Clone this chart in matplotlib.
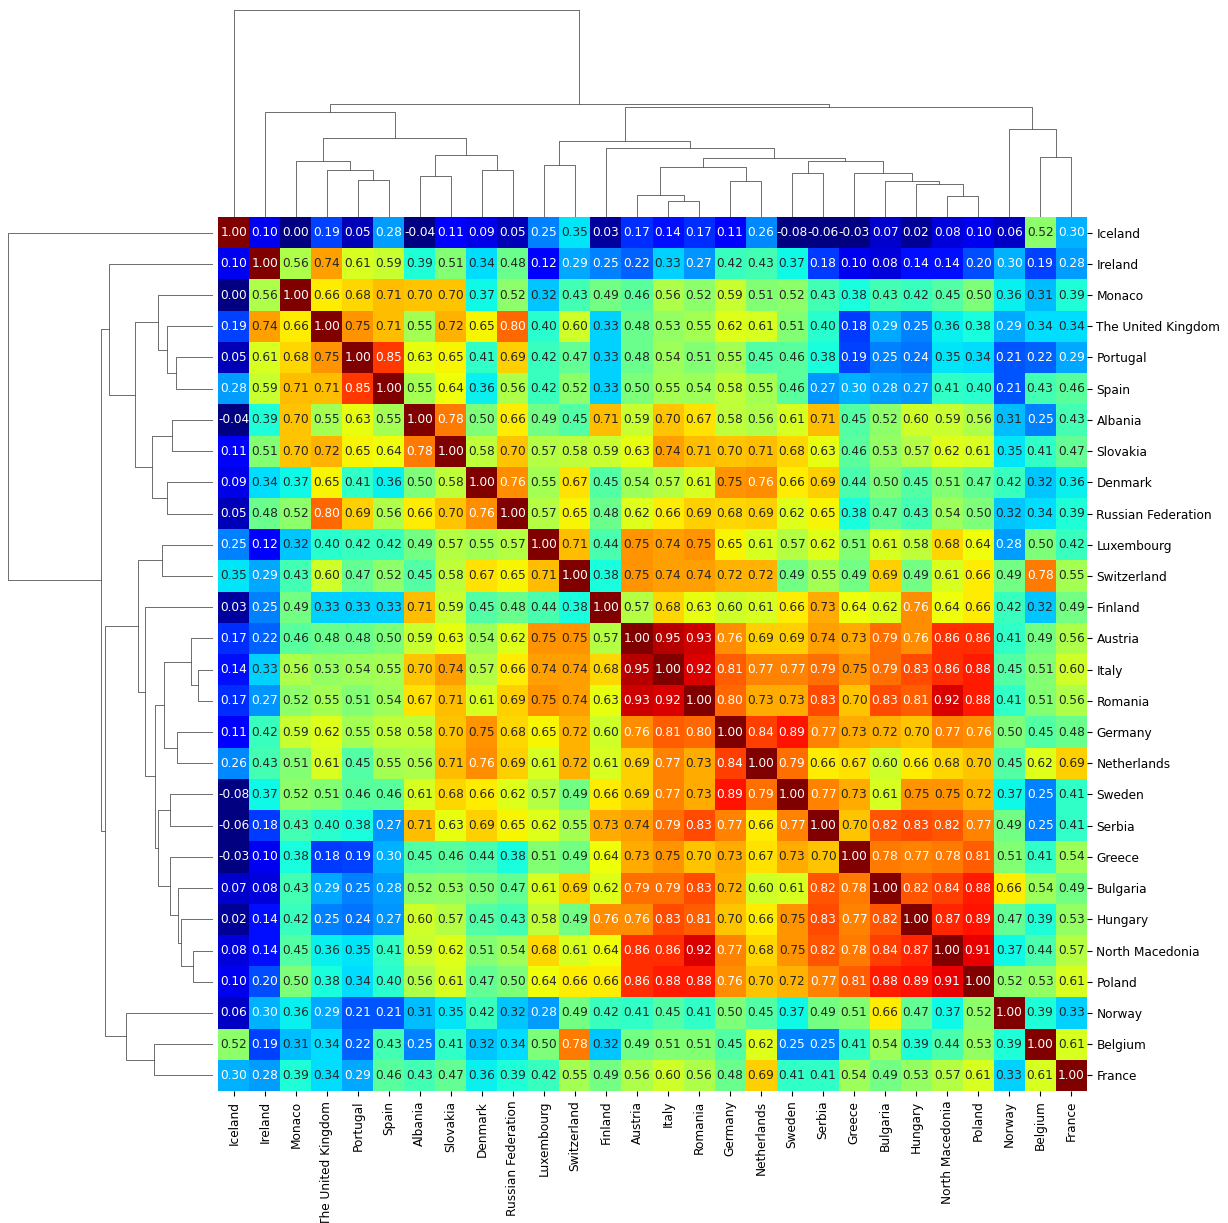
import numpy as np
import pandas as pd
import matplotlib
matplotlib.use("Agg")
import matplotlib.pyplot as plt
import seaborn as sns
from scipy.cluster.hierarchy import linkage

countries = ["Iceland", "Ireland", "Monaco", "The United Kingdom", "Portugal", "Spain",
             "Albania", "Slovakia", "Denmark", "Russian Federation", "Luxembourg",
             "Switzerland", "Finland", "Austria", "Italy", "Romania", "Germany",
             "Netherlands", "Sweden", "Serbia", "Greece", "Bulgaria", "Hungary",
             "North Macedonia", "Poland", "Norway", "Belgium", "France"]

corr_rows = [
    [1.00, 0.10, 0.00, 0.19, 0.05, 0.28, -0.04, 0.11, 0.09, 0.05, 0.25, 0.35, 0.03, 0.17, 0.14, 0.17, 0.11, 0.26, -0.08, -0.06, -0.03, 0.07, 0.02, 0.08, 0.10, 0.06, 0.52, 0.30],
    [0.10, 1.00, 0.56, 0.74, 0.61, 0.59, 0.39, 0.51, 0.34, 0.48, 0.12, 0.29, 0.25, 0.22, 0.33, 0.27, 0.42, 0.43, 0.37, 0.18, 0.10, 0.08, 0.14, 0.14, 0.20, 0.30, 0.19, 0.28],
    [0.00, 0.56, 1.00, 0.66, 0.68, 0.71, 0.70, 0.70, 0.37, 0.52, 0.32, 0.43, 0.49, 0.46, 0.56, 0.52, 0.59, 0.51, 0.52, 0.43, 0.38, 0.43, 0.42, 0.45, 0.50, 0.36, 0.31, 0.39],
    [0.19, 0.74, 0.66, 1.00, 0.75, 0.71, 0.55, 0.72, 0.65, 0.80, 0.40, 0.60, 0.33, 0.48, 0.53, 0.55, 0.62, 0.61, 0.51, 0.40, 0.18, 0.29, 0.25, 0.36, 0.38, 0.29, 0.34, 0.34],
    [0.05, 0.61, 0.68, 0.75, 1.00, 0.85, 0.63, 0.65, 0.41, 0.69, 0.42, 0.47, 0.33, 0.48, 0.54, 0.51, 0.55, 0.45, 0.46, 0.38, 0.19, 0.25, 0.24, 0.35, 0.34, 0.21, 0.22, 0.29],
    [0.28, 0.59, 0.71, 0.71, 0.85, 1.00, 0.55, 0.64, 0.36, 0.56, 0.42, 0.52, 0.33, 0.50, 0.55, 0.54, 0.58, 0.55, 0.46, 0.27, 0.30, 0.28, 0.27, 0.41, 0.40, 0.21, 0.43, 0.46],
    [-0.04, 0.39, 0.70, 0.55, 0.63, 0.55, 1.00, 0.78, 0.50, 0.66, 0.49, 0.45, 0.71, 0.59, 0.70, 0.67, 0.58, 0.56, 0.61, 0.71, 0.45, 0.52, 0.60, 0.59, 0.56, 0.31, 0.25, 0.43],
    [0.11, 0.51, 0.70, 0.72, 0.65, 0.64, 0.78, 1.00, 0.58, 0.70, 0.57, 0.58, 0.59, 0.63, 0.74, 0.71, 0.70, 0.71, 0.68, 0.63, 0.46, 0.53, 0.57, 0.62, 0.61, 0.35, 0.41, 0.47],
    [0.09, 0.34, 0.37, 0.65, 0.41, 0.36, 0.50, 0.58, 1.00, 0.76, 0.55, 0.67, 0.45, 0.54, 0.57, 0.61, 0.75, 0.76, 0.66, 0.69, 0.44, 0.50, 0.45, 0.51, 0.47, 0.42, 0.32, 0.36],
    [0.05, 0.48, 0.52, 0.80, 0.69, 0.56, 0.66, 0.70, 0.76, 1.00, 0.57, 0.65, 0.48, 0.62, 0.66, 0.69, 0.68, 0.69, 0.62, 0.65, 0.38, 0.47, 0.43, 0.54, 0.50, 0.32, 0.34, 0.39],
    [0.25, 0.12, 0.32, 0.40, 0.42, 0.42, 0.49, 0.57, 0.55, 0.57, 1.00, 0.71, 0.44, 0.75, 0.74, 0.75, 0.65, 0.61, 0.57, 0.62, 0.51, 0.61, 0.58, 0.68, 0.64, 0.28, 0.50, 0.42],
    [0.35, 0.29, 0.43, 0.60, 0.47, 0.52, 0.45, 0.58, 0.67, 0.65, 0.71, 1.00, 0.38, 0.75, 0.74, 0.74, 0.72, 0.72, 0.49, 0.55, 0.49, 0.69, 0.49, 0.61, 0.66, 0.49, 0.78, 0.55],
    [0.03, 0.25, 0.49, 0.33, 0.33, 0.33, 0.71, 0.59, 0.45, 0.48, 0.44, 0.38, 1.00, 0.57, 0.68, 0.63, 0.60, 0.61, 0.66, 0.73, 0.64, 0.62, 0.76, 0.64, 0.66, 0.42, 0.32, 0.49],
    [0.17, 0.22, 0.46, 0.48, 0.48, 0.50, 0.59, 0.63, 0.54, 0.62, 0.75, 0.75, 0.57, 1.00, 0.95, 0.93, 0.76, 0.69, 0.69, 0.74, 0.73, 0.79, 0.76, 0.86, 0.86, 0.41, 0.49, 0.56],
    [0.14, 0.33, 0.56, 0.53, 0.54, 0.55, 0.70, 0.74, 0.57, 0.66, 0.74, 0.74, 0.68, 0.95, 1.00, 0.92, 0.81, 0.77, 0.77, 0.79, 0.75, 0.79, 0.83, 0.86, 0.88, 0.45, 0.51, 0.60],
    [0.17, 0.27, 0.52, 0.55, 0.51, 0.54, 0.67, 0.71, 0.61, 0.69, 0.75, 0.74, 0.63, 0.93, 0.92, 1.00, 0.80, 0.73, 0.73, 0.83, 0.70, 0.83, 0.81, 0.92, 0.88, 0.41, 0.51, 0.56],
    [0.11, 0.42, 0.59, 0.62, 0.55, 0.58, 0.58, 0.70, 0.75, 0.68, 0.65, 0.72, 0.60, 0.76, 0.81, 0.80, 1.00, 0.84, 0.89, 0.77, 0.73, 0.72, 0.70, 0.77, 0.76, 0.50, 0.45, 0.48],
    [0.26, 0.43, 0.51, 0.61, 0.45, 0.55, 0.56, 0.71, 0.76, 0.69, 0.61, 0.72, 0.61, 0.69, 0.77, 0.73, 0.84, 1.00, 0.79, 0.66, 0.67, 0.60, 0.66, 0.68, 0.70, 0.45, 0.62, 0.69],
    [-0.08, 0.37, 0.52, 0.51, 0.46, 0.46, 0.61, 0.68, 0.66, 0.62, 0.57, 0.49, 0.66, 0.69, 0.77, 0.73, 0.89, 0.79, 1.00, 0.77, 0.73, 0.61, 0.75, 0.75, 0.72, 0.37, 0.25, 0.41],
    [-0.06, 0.18, 0.43, 0.40, 0.38, 0.27, 0.71, 0.63, 0.69, 0.65, 0.62, 0.55, 0.73, 0.74, 0.79, 0.83, 0.77, 0.66, 0.77, 1.00, 0.70, 0.82, 0.83, 0.82, 0.77, 0.49, 0.25, 0.41],
    [-0.03, 0.10, 0.38, 0.18, 0.19, 0.30, 0.45, 0.46, 0.44, 0.38, 0.51, 0.49, 0.64, 0.73, 0.75, 0.70, 0.73, 0.67, 0.73, 0.70, 1.00, 0.78, 0.77, 0.78, 0.81, 0.51, 0.41, 0.54],
    [0.07, 0.08, 0.43, 0.29, 0.25, 0.28, 0.52, 0.53, 0.50, 0.47, 0.61, 0.69, 0.62, 0.79, 0.79, 0.83, 0.72, 0.60, 0.61, 0.82, 0.78, 1.00, 0.82, 0.84, 0.88, 0.66, 0.54, 0.49],
    [0.02, 0.14, 0.42, 0.25, 0.24, 0.27, 0.60, 0.57, 0.45, 0.43, 0.58, 0.49, 0.76, 0.76, 0.83, 0.81, 0.70, 0.66, 0.75, 0.83, 0.77, 0.82, 1.00, 0.87, 0.89, 0.47, 0.39, 0.53],
    [0.08, 0.14, 0.45, 0.36, 0.35, 0.41, 0.59, 0.62, 0.51, 0.54, 0.68, 0.61, 0.64, 0.86, 0.86, 0.92, 0.77, 0.68, 0.75, 0.82, 0.78, 0.84, 0.87, 1.00, 0.91, 0.37, 0.44, 0.57],
    [0.10, 0.20, 0.50, 0.38, 0.34, 0.40, 0.56, 0.61, 0.47, 0.50, 0.64, 0.66, 0.66, 0.86, 0.88, 0.88, 0.76, 0.70, 0.72, 0.77, 0.81, 0.88, 0.89, 0.91, 1.00, 0.52, 0.53, 0.61],
    [0.06, 0.30, 0.36, 0.29, 0.21, 0.21, 0.31, 0.35, 0.42, 0.32, 0.28, 0.49, 0.42, 0.41, 0.45, 0.41, 0.50, 0.45, 0.37, 0.49, 0.51, 0.66, 0.47, 0.37, 0.52, 1.00, 0.39, 0.33],
    [0.52, 0.19, 0.31, 0.34, 0.22, 0.43, 0.25, 0.41, 0.32, 0.34, 0.50, 0.78, 0.32, 0.49, 0.51, 0.51, 0.45, 0.62, 0.25, 0.25, 0.41, 0.54, 0.39, 0.44, 0.53, 0.39, 1.00, 0.61],
    [0.30, 0.28, 0.39, 0.34, 0.29, 0.46, 0.43, 0.47, 0.36, 0.39, 0.42, 0.55, 0.49, 0.56, 0.60, 0.56, 0.48, 0.69, 0.41, 0.41, 0.54, 0.49, 0.53, 0.57, 0.61, 0.33, 0.61, 1.00],
]

corr = pd.DataFrame(corr_rows, index=countries, columns=countries)

# Hierarchical clustering (average linkage, euclidean), children oriented so the
# leaf order follows the order in which the countries are listed above.
Z = linkage(corr.values, method="average", metric="euclidean")
n = len(countries)
first_leaf = list(range(n))
for row in Z:
    a, b = int(row[0]), int(row[1])
    if first_leaf[a] > first_leaf[b]:
        row[0], row[1] = b, a
    first_leaf.append(min(first_leaf[a], first_leaf[b]))

FS = 8.7
W, H = 1228, 1223
g = sns.clustermap(corr, cmap="jet", annot=True, fmt=".2f", vmin=0, vmax=1,
                   row_linkage=Z, col_linkage=Z,
                   figsize=(W / 100, H / 100), cbar_pos=None,
                   annot_kws={"size": FS})

ax = g.ax_heatmap
ax.tick_params(axis="both", labelsize=FS)


def fx(px):
    return px / W


def fy(py):
    return 1 - py / H


hm_l, hm_r, hm_t, hm_b = 218.3, 1086.7, 217, 1091
ax.set_position([fx(hm_l), fy(hm_b), fx(hm_r - hm_l), (hm_b - hm_t) / H])
g.ax_col_dendrogram.set_position([fx(hm_l), fy(hm_t - 0.5), fx(hm_r - hm_l), (hm_t - 0.5) / H])
g.ax_row_dendrogram.set_position([fx(-2), fy(hm_b), fx(213 + 2), (hm_b - hm_t) / H])

g.figure.savefig("out.png", dpi=100)
